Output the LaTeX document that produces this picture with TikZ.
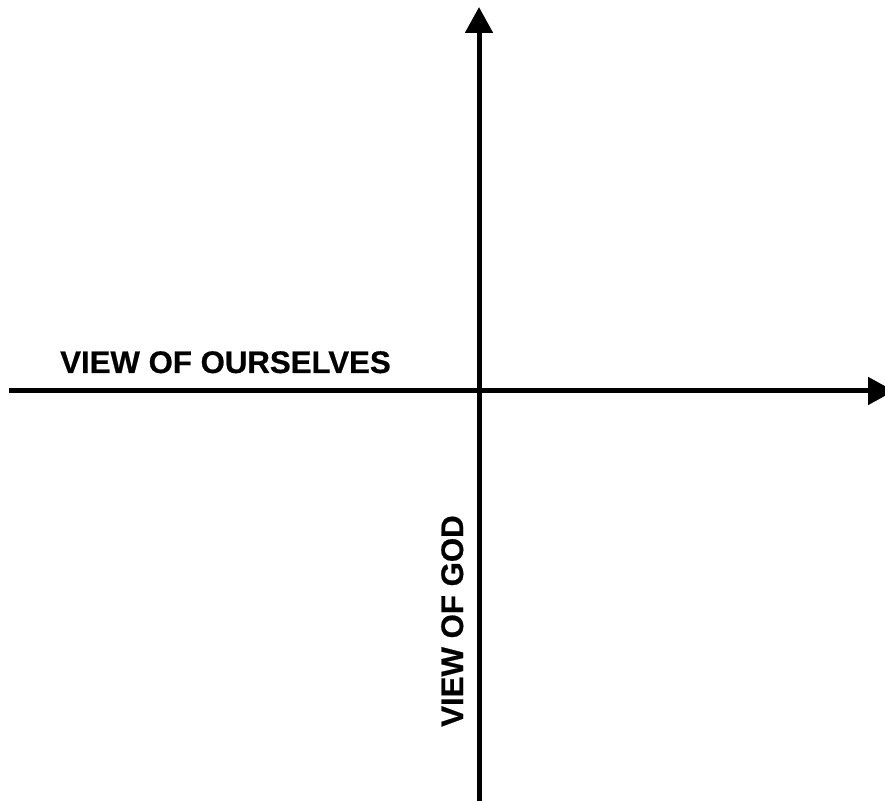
\documentclass[tikz,border=0pt]{standalone}
\usepackage{fontspec}
\setmainfont{Liberation Sans}[BoldFeatures={FakeBold=0.6}]
\usetikzlibrary{arrows.meta}
\begin{document}
\begin{tikzpicture}[x=1pt,y=1pt,
  axis/.style={line width=5pt,-{Triangle[length=26pt,width=27pt]}},
  lbl/.style={font=\fontsize{31.2}{36}\selectfont\bfseries,inner sep=0pt}]
\useasboundingbox (0,0) rectangle (885,800);
\clip (0,0) rectangle (885,800);
\coordinate (hstart) at (9,409);
\coordinate (hend) at (894,409);
\coordinate (vstart) at (479,-5);
\coordinate (vend) at (479,793);
\draw[axis] (hstart) -- (hend);
\draw[axis] (vstart) -- (vend);
\node[lbl,anchor=base west] (ours) at (60,427) {VIEW OF OURSELVES};
\node[lbl,anchor=base west,rotate=90] (god) at (463,73) {VIEW OF GOD};
\end{tikzpicture}
\end{document}
